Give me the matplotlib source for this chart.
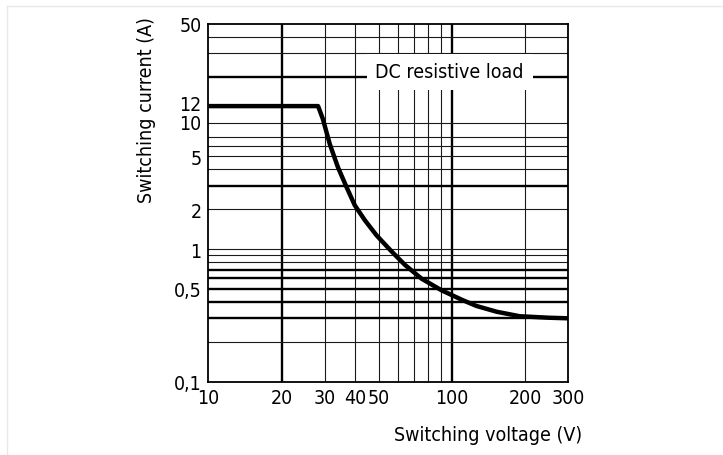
import matplotlib
matplotlib.use('Agg')
import matplotlib.pyplot as plt
import matplotlib.transforms as mtransforms
from matplotlib import font_manager
from matplotlib.lines import Line2D

# pick a narrow sans if it is there
names = {f.name for f in font_manager.fontManager.ttflist}
if 'Liberation Sans Narrow' in names:
    font = 'Liberation Sans Narrow'
    stretch = 'normal'
else:
    font = 'DejaVu Sans'
    stretch = 'condensed'
plt.rcParams['font.family'] = [font, 'DejaVu Sans']
plt.rcParams['font.stretch'] = stretch

# curve (DC resistive load)
voltage = [10, 28.2, 29.5, 31.5, 34.0, 36.9, 39.9, 43.9, 49.0, 56.5, 64.1, 75.0,
           90.7, 109.6, 126, 153, 190, 250, 300]
current = [12, 12, 9.6, 6.2, 4.16, 2.94, 2.14, 1.65, 1.27, 0.96, 0.76, 0.598,
           0.488, 0.415, 0.372, 0.336, 0.311, 0.303, 0.3]

# grid lines drawn on the chart
v_thin = [30, 40, 50, 60, 70, 80, 90, 200]
v_thick = [20, 100]
h_thin = [0.2, 0.8, 0.9, 1, 2, 4, 5, 6, 7, 9, 30, 40]
h_thick = [0.3, 0.4, 0.5, 0.6, 0.7, 3, 20]

x_ticks = [10, 20, 30, 40, 50, 100, 200, 300]
x_labels = ['10', '20', '30', '40', '50', '100', '200', '300']
y_ticks = [0.1, 0.5, 1, 2, 5, 10, 12, 50]
y_labels = ['0,1', '0,5', '1', '2', '5', '10', '12', '50']

W, H = 723, 456
fs = 14
fig = plt.figure(figsize=(W / 100, H / 100), dpi=100)
ax = fig.add_axes([208.5 / W, 1 - 382.5 / H, (568 - 208.5) / W, (382.5 - 25) / H])
ax.set_xscale('log')
ax.set_yscale('log')
ax.set_xlim(10, 300)
ax.set_ylim(0.1, 50)

for v in v_thin:
    ax.axvline(v, color='#1a1a1a', lw=0.8, zorder=1)
for v in v_thick:
    ax.axvline(v, color='black', lw=1.7, zorder=1)
for h in h_thin:
    ax.axhline(h, color='#1a1a1a', lw=0.8, zorder=1)
for h in h_thick:
    ax.axhline(h, color='black', lw=1.7, zorder=1)

ax.plot(voltage, current, color='black', lw=3.2, solid_capstyle='butt',
        solid_joinstyle='round', zorder=3)

ax.text(98, 21.8, 'DC resistive load', fontsize=fs, ha='center', va='center',
        bbox=dict(boxstyle='square,pad=0.45', fc='white', ec='none'), zorder=2)

ax.set_xticks(x_ticks)
ax.set_xticklabels(x_labels)
ax.set_yticks(y_ticks)
ax.set_yticklabels(y_labels)
ax.minorticks_off()
ax.tick_params(length=0, labelsize=fs, pad=5)
for s in ax.spines.values():
    s.set_linewidth(1.3)

# 12 and 10 sit close, spread their labels a little like the original
for lab in ax.get_yticklabels():
    if lab.get_text() == '12':
        lab.set_transform(lab.get_transform() + mtransforms.ScaledTranslation(0, 4 / 100, fig.dpi_scale_trans))
    elif lab.get_text() == '10':
        lab.set_transform(lab.get_transform() + mtransforms.ScaledTranslation(0, -5 / 100, fig.dpi_scale_trans))

fig.text(147 / W, 1 - 110 / H, 'Switching current (A)', rotation=90,
         ha='center', va='center', fontsize=fs)
fig.text(582 / W, 1 - 436 / H, 'Switching voltage (V)', ha='right', va='center',
         fontsize=fs)

# faint frame around the picture
fig.add_artist(Line2D([7 / W, 7 / W], [0, 1 - 7 / H], color='#e8e8e8', lw=1))
fig.add_artist(Line2D([7 / W, 1], [1 - 7 / H, 1 - 7 / H], color='#e8e8e8', lw=1))

fig.savefig('out.png', dpi=100)
